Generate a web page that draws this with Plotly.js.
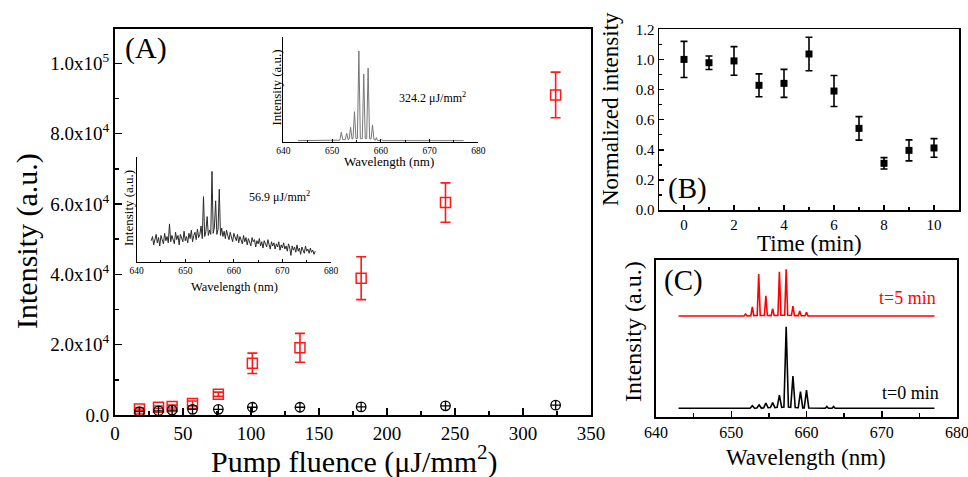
<!DOCTYPE html>
<html><head><meta charset="utf-8">
<script src="https://cdn.plot.ly/plotly-3.0.1.min.js"></script>
<style>html,body{margin:0;padding:0;background:#fff}#c{width:968px;height:477px}</style>
</head><body><div id="c"></div>
<script>
// Panel A: intensity vs pump fluence
const fluence = [18, 32, 42, 57, 76, 101, 136, 181, 243, 324];
const redInt = [1700, 2200, 2400, 3300, 5900, 14700, 19100, 38900, 60400, 91000];
const redErr = [300, 350, 400, 700, 600, 2900, 4100, 6100, 5600, 6500];
const blackInt = [940, 1200, 1400, 1600, 1600, 2200, 2200, 2300, 2600, 2800];
const aYTickVals = [0, 20000, 40000, 60000, 80000, 100000];
const aYTickText = ["0.0", "2.0x10<sup>4</sup>", "4.0x10<sup>4</sup>", "6.0x10<sup>4</sup>", "8.0x10<sup>4</sup>", "1.0x10<sup>5</sup>"];

// Panel B: normalized intensity vs time
const timeMin = [0, 1, 2, 3, 4, 5, 6, 7, 8, 9, 10];
const normInt = [1.00, 0.978, 0.99, 0.828, 0.841, 1.036, 0.79, 0.542, 0.31, 0.396, 0.412];
const normErr = [0.12, 0.045, 0.095, 0.076, 0.093, 0.111, 0.103, 0.078, 0.038, 0.07, 0.062];

// Panel C: spectra at t=0 and t=5 min
const wl0 = [643, 652.5, 652.8, 653.1, 653.4, 653.7, 654.0, 654.3, 654.6, 654.9, 655.2, 655.5, 655.8, 656.1, 656.4, 656.7, 657.0, 657.3, 657.6, 657.9, 658.2, 658.5, 658.9, 659.2, 659.5, 659.7, 660.0, 660.3, 662.5, 662.7, 662.9, 663.4, 663.6, 663.8, 677];
const int0 = [0.054, 0.054, 0.07, 0.054, 0.055, 0.075, 0.055, 0.056, 0.086, 0.057, 0.058, 0.09, 0.058, 0.06, 0.138, 0.06, 0.062, 0.574, 0.062, 0.06, 0.26, 0.058, 0.057, 0.16, 0.056, 0.056, 0.17, 0.055, 0.054, 0.065, 0.054, 0.054, 0.065, 0.054, 0.054];
const wl5 = [643, 651.7, 651.9, 652.1, 652.6, 652.8, 653.0, 653.45, 653.65, 653.85, 654.4, 654.6, 654.8, 655.3, 655.5, 655.7, 656.2, 656.4, 656.6, 657.1, 657.3, 657.5, 658.0, 658.2, 658.4, 658.9, 659.1, 659.3, 659.8, 660.0, 660.2, 677];
const int5 = [0.643, 0.643, 0.655, 0.643, 0.645, 0.70, 0.645, 0.646, 0.91, 0.646, 0.646, 0.772, 0.646, 0.645, 0.69, 0.646, 0.646, 0.925, 0.647, 0.647, 0.94, 0.647, 0.646, 0.706, 0.645, 0.645, 0.674, 0.644, 0.644, 0.666, 0.643, 0.643];

// Inset: spectrum at 324.2 uJ/mm2
const wlHigh = [643, 651.6, 651.9, 652.2, 652.7, 653.0, 653.3, 653.5, 653.8, 654.1, 654.3, 654.6, 654.9, 655.2, 655.5, 655.8, 656.2, 656.5, 656.8, 657.1, 657.4, 657.7, 658.0, 658.3, 658.6, 658.9, 659.1, 659.3, 660.0, 660.2, 660.4, 677];
const intHigh = [0.01, 0.015, 0.09, 0.02, 0.02, 0.08, 0.02, 0.025, 0.137, 0.025, 0.03, 0.286, 0.03, 0.03, 0.864, 0.03, 0.03, 0.645, 0.03, 0.03, 0.70, 0.03, 0.025, 0.16, 0.02, 0.015, 0.04, 0.012, 0.01, 0.02, 0.01, 0.01];

// Inset: spectrum at 56.9 uJ/mm2
const wlLow = [
  643.00, 643.25, 643.50, 643.75, 644.00, 644.25, 644.50, 644.75, 645.00, 645.25,
  645.50, 645.75, 646.00, 646.25, 646.50, 646.75, 647.00, 647.25, 647.50, 647.75,
  648.00, 648.25, 648.50, 648.75, 649.00, 649.25, 649.50, 649.75, 650.00, 650.25,
  650.50, 650.75, 651.00, 651.25, 651.50, 651.75, 652.00, 652.25, 652.50, 652.75,
  653.00, 653.25, 653.50, 653.75, 654.00, 654.25, 654.50, 654.75, 655.00, 655.25,
  655.50, 655.75, 656.00, 656.25, 656.50, 656.75, 657.00, 657.25, 657.50, 657.75,
  658.00, 658.25, 658.50, 658.75, 659.00, 659.25, 659.50, 659.75, 660.00, 660.25,
  660.50, 660.75, 661.00, 661.25, 661.50, 661.75, 662.00, 662.25, 662.50, 662.75,
  663.00, 663.25, 663.50, 663.75, 664.00, 664.25, 664.50, 664.75, 665.00, 665.25,
  665.50, 665.75, 666.00, 666.25, 666.50, 666.75, 667.00, 667.25, 667.50, 667.75,
  668.00, 668.25, 668.50, 668.75, 669.00, 669.25, 669.50, 669.75, 670.00, 670.25,
  670.50, 670.75, 671.00, 671.25, 671.50, 671.75, 672.00, 672.25, 672.50, 672.75,
  673.00, 673.25, 673.50, 673.75, 674.00, 674.25, 674.50, 674.75, 675.00, 675.25,
  675.50, 675.75, 676.00, 676.25, 676.50, 676.75];
const intLow = [
  0.20, 0.24, 0.16, 0.22, 0.26, 0.18, 0.23, 0.15, 0.25, 0.21,
  0.17, 0.27, 0.20, 0.24, 0.18, 0.36, 0.19, 0.25, 0.22, 0.17,
  0.28, 0.21, 0.25, 0.16, 0.26, 0.23, 0.19, 0.29, 0.20, 0.24,
  0.18, 0.27, 0.22, 0.30, 0.19, 0.25, 0.28, 0.21, 0.31, 0.23,
  0.26, 0.34, 0.22, 0.62, 0.24, 0.29, 0.43, 0.25, 0.30, 0.26,
  0.86, 0.27, 0.33, 0.58, 0.26, 0.31, 0.69, 0.25, 0.32, 0.24,
  0.29, 0.22, 0.30, 0.25, 0.21, 0.28, 0.23, 0.19, 0.27, 0.22,
  0.20, 0.26, 0.18, 0.24, 0.21, 0.17, 0.25, 0.19, 0.23, 0.16,
  0.22, 0.18, 0.15, 0.23, 0.19, 0.21, 0.14, 0.20, 0.17, 0.22,
  0.15, 0.19, 0.13, 0.20, 0.17, 0.14, 0.21, 0.16, 0.12, 0.19,
  0.15, 0.18, 0.12, 0.17, 0.14, 0.19, 0.11, 0.16, 0.13, 0.18,
  0.12, 0.15, 0.10, 0.17, 0.13, 0.06, 0.15, 0.11, 0.14, 0.09,
  0.16, 0.10, 0.13, 0.07, 0.14, 0.11, 0.08, 0.15, 0.10, 0.12,
  0.08, 0.13, 0.09, 0.11, 0.07, 0.10];

const W = 968, H = 477;
const px = v => v / W;
const py = v => 1 - v / H;
const FONT = "Liberation Serif, Times New Roman, serif";

const traces = [
  {x: fluence, y: redInt, xaxis: 'x', yaxis: 'y', mode: 'markers', type: 'scatter', cliponaxis: false,
   marker: {symbol: 'square-open', size: 10, color: '#ff1a1a', line: {width: 1.5, color: '#ff1a1a'}},
   error_y: {type: 'data', array: redErr, visible: true, color: '#ff1a1a', thickness: 1.6, width: 5}},
  {x: fluence, y: blackInt, xaxis: 'x', yaxis: 'y', mode: 'markers', type: 'scatter', cliponaxis: false,
   marker: {symbol: 'circle-cross-open', size: 9.5, color: '#000', line: {width: 1.3, color: '#000'}}},
  {x: timeMin, y: normInt, xaxis: 'x2', yaxis: 'y2', mode: 'markers', type: 'scatter', cliponaxis: false,
   marker: {symbol: 'square', size: 7, color: '#000'},
   error_y: {type: 'data', array: normErr, visible: true, color: '#000', thickness: 1.6, width: 3.5}},
  {x: wl5, y: int5, xaxis: 'x3', yaxis: 'y3', mode: 'lines', type: 'scatter', line: {color: '#ff0000', width: 1.6}},
  {x: wl0, y: int0, xaxis: 'x3', yaxis: 'y3', mode: 'lines', type: 'scatter', line: {color: '#000', width: 1.6}},
  {x: wlHigh, y: intHigh, xaxis: 'x4', yaxis: 'y4', mode: 'lines', type: 'scatter', line: {color: '#777', width: 1}},
  {x: wlLow, y: intLow, xaxis: 'x5', yaxis: 'y5', mode: 'lines', type: 'scatter', line: {color: '#2a2a2a', width: 1}}
];

const tf = s => ({family: FONT, size: s, color: '#000'});
const boxAxis = (extra) => Object.assign({showline: true, linecolor: '#000', linewidth: 2, mirror: true,
  ticks: 'inside', tickcolor: '#000', tickwidth: 1.5, showgrid: false, zeroline: false, fixedrange: true,
  ticklabeloverflow: 'allow'}, extra);
const insetAxis = (extra) => Object.assign({showline: true, linecolor: '#000', linewidth: 1, mirror: false,
  showgrid: false, zeroline: false, fixedrange: true, ticklabeloverflow: 'allow'}, extra);

const layout = {
  width: W, height: H, margin: {l: 0, r: 0, t: 0, b: 0}, showlegend: false,
  paper_bgcolor: '#fff', plot_bgcolor: 'rgba(0,0,0,0)',
  font: {family: FONT, color: '#000'},
  xaxis: boxAxis({domain: [px(115), px(591)], range: [0, 350], anchor: 'y', dtick: 50, tick0: 0, ticklen: 7,
    tickfont: tf(19), minor: {dtick: 25, tick0: 0, ticks: 'inside', ticklen: 4, tickcolor: '#000'}}),
  yaxis: boxAxis({domain: [py(415), py(29)], range: [0, 109750], anchor: 'x', tickmode: 'array',
    tickvals: aYTickVals, ticktext: aYTickText, ticklen: 7, tickfont: tf(19),
    minor: {tickmode: 'linear', tick0: 0, dtick: 10000, ticks: 'inside', ticklen: 4, tickcolor: '#000'}}),
  xaxis2: boxAxis({domain: [px(659), px(959)], range: [-1, 11], anchor: 'y2', dtick: 2, tick0: 0, ticklen: 5,
    linewidth: 1.5, tickfont: tf(15), minor: {dtick: 1, tick0: 0, ticks: 'inside', ticklen: 3, tickcolor: '#000'}}),
  yaxis2: boxAxis({domain: [py(210), py(29.3)], range: [0, 1.2], anchor: 'x2', dtick: 0.2, tick0: 0, ticklen: 5,
    linewidth: 1.5, tickformat: '.1f', tickfont: tf(15), minor: {dtick: 0.1, tick0: 0, ticks: 'inside', ticklen: 3, tickcolor: '#000'}}),
  xaxis3: boxAxis({domain: [px(656), px(957)], range: [640, 680], anchor: 'y3', dtick: 10, tick0: 640, ticklen: 6,
    tickfont: tf(16), minor: {dtick: 5, tick0: 640, ticks: 'inside', ticklen: 4, tickcolor: '#000'}}),
  yaxis3: boxAxis({domain: [py(416.7), py(260)], range: [0, 1], anchor: 'x3', ticks: '', showticklabels: false}),
  xaxis4: insetAxis({domain: [px(283.3), px(478.3)], range: [640, 680], anchor: 'y4', dtick: 10, tick0: 640,
    ticks: 'inside', ticklen: 3, tickcolor: '#000', tickwidth: 1, tickfont: tf(9.5),
    minor: {dtick: 5, tick0: 640, ticks: 'inside', ticklen: 2, tickcolor: '#000'}}),
  yaxis4: insetAxis({domain: [py(141.7), py(36.7)], range: [0, 1], anchor: 'x4', ticks: '', showticklabels: false}),
  xaxis5: insetAxis({domain: [px(136.7), px(331)], range: [640, 680], anchor: 'y5', dtick: 10, tick0: 640,
    ticks: 'inside', ticklen: 3, tickcolor: '#000', tickwidth: 1, tickfont: tf(9.5),
    minor: {dtick: 5, tick0: 640, ticks: 'inside', ticklen: 2, tickcolor: '#000'}}),
  yaxis5: insetAxis({domain: [py(261.7), py(156.7)], range: [0, 1], anchor: 'x5', ticks: '', showticklabels: false}),
  annotations: []
};

const ann = (text, x, y, size, extra) => Object.assign({text: text, x: px(x), y: py(y), xref: 'paper', yref: 'paper',
  xanchor: 'center', yanchor: 'middle', showarrow: false, font: tf(size)}, extra || {});

layout.annotations = [
  ann('Intensity (a.u.)', 27, 241, 30, {textangle: -90}),
  ann('Pump fluence (μJ/mm<sup>2</sup>)', 354, 459, 30),
  ann('(A)', 146, 48, 30),
  ann('Normalized intensity', 610, 109, 23, {textangle: -90}),
  ann('Time (min)', 809, 243, 23),
  ann('(B)', 687, 188, 29),
  ann('(C)', 683, 280, 29),
  ann('t=5 min', 907, 298, 18, {font: {family: FONT, size: 18, color: '#ff0000'}}),
  ann('t=0 min', 910, 393, 18),
  ann('Intensity (a.u.)', 633, 332, 24, {textangle: -90}),
  ann('Wavelength (nm)', 806, 457, 23),
  ann('Intensity (a.u.)', 275.5, 88, 13, {textangle: -90}),
  ann('Wavelength (nm)', 389, 161.5, 13),
  ann('324.2 μJ/mm<sup>2</sup>', 432, 97, 12),
  ann('Intensity (a.u.)', 128, 208, 13, {textangle: -90}),
  ann('Wavelength (nm)', 234, 286.5, 12.5),
  ann('56.9 μJ/mm<sup>2</sup>', 279, 196, 12)
];

Plotly.newPlot('c', traces, layout, {staticPlot: true, displayModeBar: false});
</script>
</body></html>
